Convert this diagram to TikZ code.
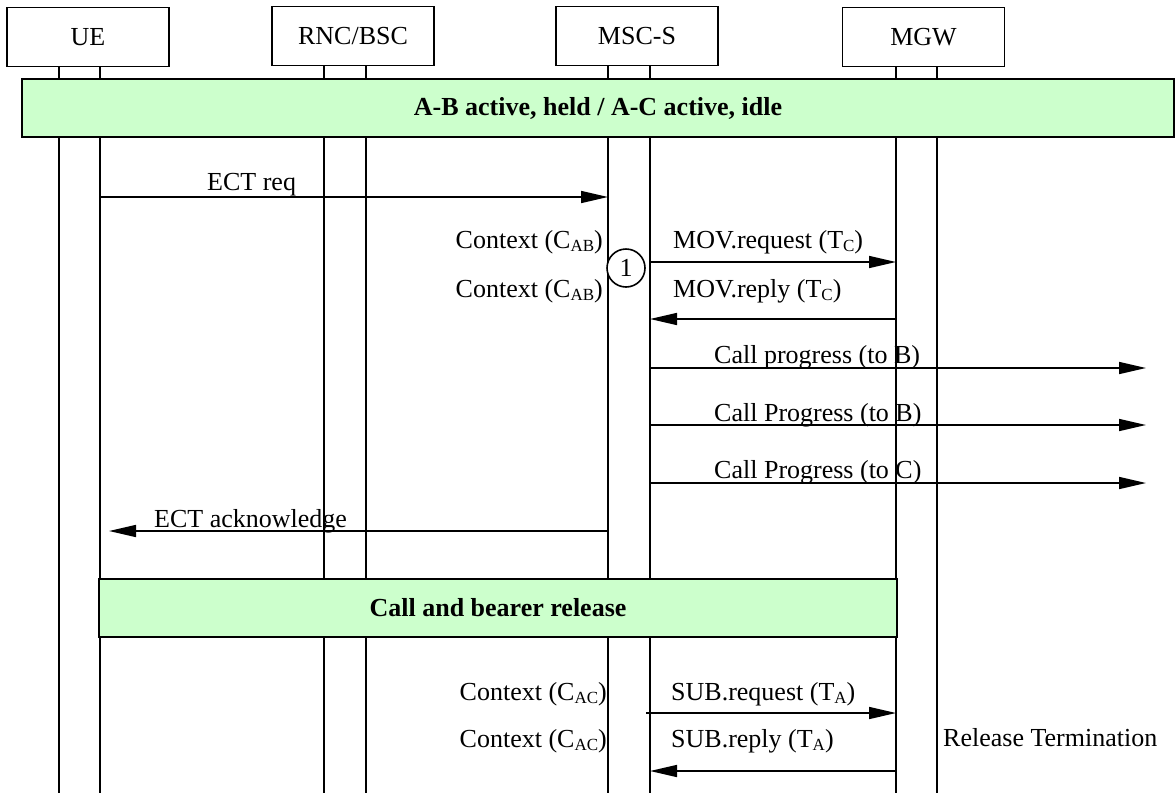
\documentclass[tikz,border=0pt]{standalone}
\usepackage{fontspec}
\setmainfont{Liberation Serif}
\usetikzlibrary{arrows.meta}
\definecolor{barg}{RGB}{204,255,204}
\newcommand\sbs[1]{\raisebox{-0.3ex}{\fontsize{17}{20}\selectfont #1}}
\begin{document}
\begin{tikzpicture}[x=1pt,y=-1pt,font=\fontsize{26}{30}\selectfont,
  entity/.style={draw,line width=1.6pt,minimum width=162pt,minimum height=59pt,inner sep=0pt,fill=white},
  life/.style={line width=1.6pt},
  bar/.style={draw,fill=barg,line width=1.6pt,inner sep=0pt,font=\fontsize{26}{30}\selectfont\bfseries},
  msg/.style={line width=1.6pt,-{Triangle[length=27pt,width=12pt]}},
  lbl/.style={inner sep=0pt}]
\useasboundingbox (0,0) rectangle (1175,793);
% entities
\node[entity] (ue) at (88,37) {UE};
\node[entity] (rnc) at (353,36) {RNC/BSC};
\node[entity] (msc) at (637,36) {MSC-S};
\node[entity] (mgw) at (923.5,37) {MGW};
% lifeline x positions
\coordinate (ueA) at (59,793);
\coordinate (ueB) at (100,793);
\coordinate (rncA) at (324,793);
\coordinate (rncB) at (366,793);
\coordinate (mscA) at (608,793);
\coordinate (mscB) at (650,793);
\coordinate (mgwA) at (896,793);
\coordinate (mgwB) at (937,793);
\coordinate (ext) at (1146,793);
\draw[life] (ueA |- ue.south) -- (ueA);
\draw[life] (ueB |- ue.south) -- (ueB);
\draw[life] (rncA |- rnc.south) -- (rncA);
\draw[life] (rncB |- rnc.south) -- (rncB);
\draw[life] (mscA |- msc.south) -- (mscA);
\draw[life] (mscB |- msc.south) -- (mscB);
\draw[life] (mgwA |- mgw.south) -- (mgwA);
\draw[life] (mgwB |- mgw.south) -- (mgwB);
% state bars
\node[bar,minimum width=1152pt,minimum height=58pt] (bar1) at (598,108) {A-B active, held / A-C active, idle};
\node[bar,minimum width=798pt,minimum height=58pt] (bar2) at (498,608) {Call and bearer release};
% ECT req
\draw[msg] (ueB |- 0,197) -- (mscA |- 0,197);
\node[lbl,anchor=base west] (l1) at (207,190) {ECT req};
% MOV
\node[lbl,anchor=base east] (c1a) at (603,248) {Context (C\sbs{AB})};
\node[lbl,anchor=base west] (m1) at (673,248) {MOV.request (T\sbs{C})};
\node[lbl,anchor=base east] (c1b) at (603,297) {Context (C\sbs{AB})};
\node[lbl,anchor=base west] (m2) at (673,297) {MOV.reply (T\sbs{C})};
\node[draw,circle,fill=white,line width=1.6pt,minimum size=38pt,inner sep=0pt] (one) at (626,268) {1};
\draw[msg] (mscB |- 0,262) -- (mgwA |- 0,262);
\draw[msg] (mgwA |- 0,319) -- (mscB |- 0,319);
% Call progress
\draw[msg] (mscB |- 0,368) -- (ext |- 0,368);
\node[lbl,anchor=base west] (p1) at (714,363) {Call progress (to B)};
\draw[msg] (mscB |- 0,425) -- (ext |- 0,425);
\node[lbl,anchor=base west] (p2) at (714,421) {Call Progress (to B)};
\draw[msg] (mscB |- 0,483) -- (ext |- 0,483);
\node[lbl,anchor=base west] (p3) at (714,478) {Call Progress (to C)};
% ECT acknowledge
\draw[msg] (mscA |- 0,531) -- ([xshift=9pt]ueB |- 0,531);
\node[lbl,anchor=base west] (l2) at (154,527) {ECT acknowledge};
% SUB
\node[lbl,anchor=base east] (c2a) at (607,700) {Context (C\sbs{AC})};
\node[lbl,anchor=base west] (s1) at (671,700) {SUB.request (T\sbs{A})};
\node[lbl,anchor=base east] (c2b) at (607,747) {Context (C\sbs{AC})};
\node[lbl,anchor=base west] (s2) at (671,747) {SUB.reply (T\sbs{A})};
\node[lbl,anchor=base west] (rt) at (943,746) {Release Termination};
\draw[msg] ([xshift=-4pt]mscB |- 0,713) -- (mgwA |- 0,713);
\draw[msg] (mgwA |- 0,771) -- (mscB |- 0,771);
\end{tikzpicture}
\end{document}
